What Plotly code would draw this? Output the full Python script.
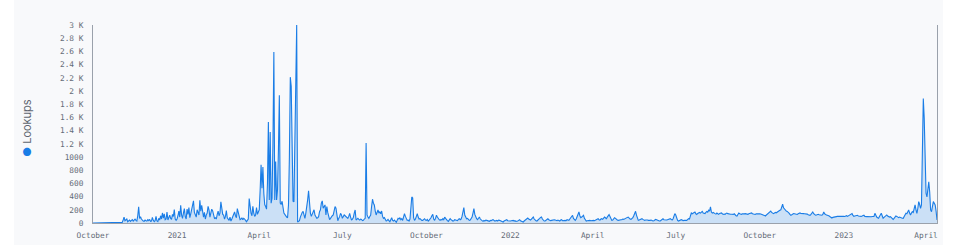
import pandas as pd
import plotly.graph_objects as go

# ---- data: daily lookups ----
start_q4_2020 = "2020-10-01"
lookups_q4_2020 = [
    0, 0, 0, 0, 0, 0, 0, 0, 0, 0, 0, 0, 0, 0, 0, 0, 0, 0, 0, 0,
    0, 0, 0, 0, 0, 0, 0, 0, 0, 0, 0, 0,
    10, 45, 90, 35, 55, 60, 20, 30, 45, 25, 35, 50, 30, 45, 60, 40, 30, 110,
    245, 70, 95, 60, 40, 30, 25, 45, 35, 30, 50, 35, 55, 25, 30, 85, 40, 20, 35, 100,
    30, 20, 70, 45, 110, 60, 152, 75, 140, 50, 60, 165, 45, 90, 120, 70, 55, 130, 100, 203, 60, 40,
]
start_q1_2021 = "2021-01-01"
lookups_q1_2021 = [
    60, 110, 180, 90, 269, 120, 70,
    150, 218, 95, 60, 210, 130, 233,
    80, 140, 200, 233, 335, 160, 110,
    90, 200, 170, 120, 345, 180, 269,
    140, 90, 160, 60, 120, 150, 253,
    200, 90, 160, 210, 182, 110, 70,
    80, 60, 130, 180, 110, 150, 320,
    218, 130, 120, 60, 100, 190, 80,
    60, 40, 90, 30, 60, 100, 120,
    167, 110, 80, 218, 150, 80, 50,
    60, 80, 50, 70, 60, 40, 20,
    40, 60, 370, 200, 150, 110, 253,
    150, 100, 120, 233, 130, 180,
]
start_q2_2021 = "2021-04-01"
lookups_q2_2021 = [
    200, 500, 882, 527, 850, 450, 280, 250, 210, 600,
    1530, 350, 1379, 300, 375, 1200, 2590, 350, 933, 350,
    500, 1100, 1936, 300, 280, 330, 200, 150, 130, 100,
    90, 80, 270, 1000, 2210, 2073, 1100, 330, 320, 1200,
    2100, 3000, 15,
    30, 36, 90, 150, 160, 175, 110, 70, 150, 226,
    350, 487, 226, 150, 100, 130, 170, 200, 120, 96,
    71, 80, 96, 172, 200, 300, 335, 223, 260, 274,
    122, 248, 160, 71, 50, 70, 96, 110, 122, 200,
    248, 223, 150, 35, 70, 96, 147, 122,
]
start_q3_2021 = "2021-07-01"
lookups_q3_2021 = [
    71, 90, 122, 110, 96, 80, 71, 100, 147, 90,
    45, 60, 81, 150, 198, 45, 60, 71, 55, 45,
    60, 55, 35, 40, 60, 71, 1211, 122, 90, 71,
    100, 122, 250, 360, 300, 274, 180, 122, 160, 198,
    150, 172, 140, 182, 100, 71, 81, 60, 30, 40,
    55, 35, 20, 50, 81, 40, 30, 45, 30, 10,
    40, 71, 60, 81, 50, 65, 40, 90, 142, 100,
    60, 40, 45, 30, 60, 250, 395, 380, 80, 40,
    60, 100, 142, 90, 60, 65, 50, 40, 40, 55,
    65, 45,
]
start_q4_2021 = "2021-10-01"
lookups_q4_2021 = [
    40, 55, 30, 45, 60, 80, 110, 132, 60, 40,
    70, 117, 90, 60, 50, 40, 55, 45, 65, 50,
    90, 70, 45, 35, 25, 40, 65, 50, 40, 30,
    35, 50, 45, 40, 35, 55, 65, 50, 60, 100,
    180, 233, 120, 80, 65, 70, 50, 40, 45, 60,
    90, 150, 218, 130, 80, 65, 50, 70, 90, 60,
    40, 35, 25, 40, 30, 45, 40, 35, 30, 25,
    40, 35, 45, 50, 40, 30, 35, 40, 30, 45,
    40, 35, 25, 20, 15, 30, 40, 45, 50, 35,
    30, 25,
]
start_q1_2022 = "2022-01-01"
lookups_q1_2022 = [
    30, 35, 40, 40, 30, 35, 25, 25, 30, 40,
    50, 35, 25, 20, 15, 30, 40, 55, 70, 76,
    60, 50, 45, 60, 80, 90, 60, 40, 35, 30,
    40, 55, 70, 85, 90, 60, 40, 30, 30, 45,
    55, 65, 50, 40, 35, 40, 45, 40, 50, 45,
    40, 35, 45, 40, 30, 45, 50, 35, 40, 45,
    40, 35, 50, 45, 40, 60, 80, 100, 117, 70,
    45, 40, 60, 90, 130, 167, 110, 80, 90, 100,
    117, 70, 40, 30, 35, 40, 45, 40, 35, 40,
]
start_q2_2022 = "2022-04-01"
lookups_q2_2022 = [
    40, 40, 35, 45, 55, 60, 65, 50, 45, 60,
    65, 55, 70, 90, 80, 60, 90, 110, 127, 100,
    60, 40, 45, 60, 80, 70, 50, 45, 40, 45,
    55, 50, 50, 60, 55, 65, 70, 80, 85, 90,
    70, 60, 55, 65, 80, 110, 150, 177, 120, 60,
    40, 45, 55, 60, 65, 55, 45, 40, 45, 50,
    45, 40, 35, 40, 45, 35, 30, 35, 45, 55,
    50, 40, 35, 30, 30, 40, 55, 65, 50, 45,
    40, 45, 50, 55, 60, 65, 55, 45, 60, 100,
    142,
]
start_q3_2022 = "2022-07-01"
lookups_q3_2022 = [
    120, 60, 40, 30, 40, 45, 50, 45, 35, 40,
    45, 40, 40, 50, 65, 60, 100, 152, 140, 150,
    160, 167, 140, 130, 145, 152, 160, 150, 170, 177,
    150, 140, 142, 160, 175, 165, 193, 180, 243, 167,
    150, 160, 145, 142, 135, 150, 140, 132, 145, 155,
    152, 140, 130, 135, 132, 145, 150, 142, 135, 140,
    132, 132, 125, 130, 140, 120, 110, 106, 140, 152,
    140, 132, 132, 140, 145, 138, 142, 135, 130, 132,
    140, 145, 150, 152, 140, 135, 132, 130, 138, 140,
    142, 135,
]
start_q4_2022 = "2022-10-01"
lookups_q4_2022 = [
    140, 135, 132, 125, 120, 115, 106, 120, 135, 152,
    160, 170, 182, 160, 150, 142, 150, 160, 155, 167,
    175, 185, 193, 200, 240, 284, 230, 210, 193, 180,
    175, 167, 150, 130, 117, 125, 135, 142, 140, 135,
    132, 130, 140, 150, 152, 145, 140, 142, 142, 140,
    138, 142, 135, 125, 120, 117, 130, 150, 167, 140,
    125, 117, 120, 128, 132, 125, 120, 117, 117, 130,
    167, 140, 127, 120, 118, 117, 105, 95, 85, 76,
    85, 90, 95, 91, 95, 100, 101, 98, 100, 102,
    101, 95,
]
start_2023 = "2023-01-01"
lookups_2023 = [
    101, 98, 105, 110, 100, 108, 117, 120, 130, 142,
    115, 101, 105, 110, 112, 117, 105, 100, 98, 101,
    105, 110, 117, 100, 95, 96, 98, 95, 100, 96,
    95, 98, 96, 100, 147, 110, 90, 80, 71, 100,
    120, 147, 110, 71, 85, 100, 110, 122, 105, 95,
    90, 96, 80, 65, 55, 70, 90, 106, 100, 85,
    81, 90, 81, 75, 72, 71, 100, 130, 147, 140,
    170, 198, 150, 122, 150, 172, 160, 200, 274, 200,
    147, 220, 325, 280, 223, 274, 900, 1886, 1592, 680,
    450, 395, 578, 624, 470, 198, 172, 250, 325, 300,
    274, 180, 45,
]

tick_dates = ["2020-10-01", "2021-01-01", "2021-04-01", "2021-07-01", "2021-10-01",
              "2022-01-01", "2022-04-01", "2022-07-01", "2022-10-01", "2023-01-01",
              "2023-04-01"]
tick_labels = ["October", "2021", "April", "July", "October", "2022", "April",
               "July", "October", "2023", "April"]
y_tick_values = [0, 200, 400, 600, 800, 1000, 1200, 1400, 1600, 1800, 2000,
                 2200, 2400, 2600, 2800, 3000]
y_tick_labels = ["0", "200", "400", "600", "800", "1000", "1.2 K", "1.4 K", "1.6 K",
                 "1.8 K", "2 K", "2.2 K", "2.4 K", "2.6 K", "2.8 K", "3 K"]
series_name = "Lookups"

segments = [
    (start_q4_2020, lookups_q4_2020), (start_q1_2021, lookups_q1_2021),
    (start_q2_2021, lookups_q2_2021), (start_q3_2021, lookups_q3_2021),
    (start_q4_2021, lookups_q4_2021), (start_q1_2022, lookups_q1_2022),
    (start_q2_2022, lookups_q2_2022), (start_q3_2022, lookups_q3_2022),
    (start_q4_2022, lookups_q4_2022), (start_2023, lookups_2023),
]
dates, values = [], []
for start, vals in segments:
    dates.extend(pd.date_range(start, periods=len(vals), freq="D"))
    values.extend(vals)

LINE = "#1a7de6"
AXIS = "#9aa1ab"
TICK = "#656c78"
PANEL = "#f8f9fb"
MONO = "DejaVu Sans Mono"

fig = go.Figure()
fig.add_trace(go.Scatter(
    x=dates, y=values, mode="lines", name=series_name,
    line=dict(color=LINE, width=1.1),
    fill="tozeroy", fillcolor="rgba(26,125,230,0.2)",
))

L, R, T, B = 93, 18, 25, 29
W, H = 955, 252
pw, ph = W - L - R, H - T - B

fig.update_layout(
    width=W, height=H,
    margin=dict(l=L, r=R, t=T, b=B, pad=0),
    paper_bgcolor="white",
    plot_bgcolor="rgba(0,0,0,0)",
    showlegend=False,
    xaxis=dict(
        type="date", range=["2020-10-01", "2023-04-13"],
        tickvals=tick_dates, ticktext=tick_labels,
        showgrid=False, zeroline=False, showline=True,
        linecolor=AXIS, linewidth=1, ticks="",
        tickfont=dict(family=MONO, size=7.8, color=TICK),
        ticklabelstandoff=5,
    ),
    yaxis=dict(
        range=[0, 3000], tickvals=y_tick_values, ticktext=y_tick_labels,
        showgrid=False, zeroline=False, showline=True, mirror=True,
        linecolor=AXIS, linewidth=1, ticks="",
        tickfont=dict(family=MONO, size=7.8, color=TICK),
        ticklabelstandoff=7,
    ),
    shapes=[dict(
        type="rect", xref="paper", yref="paper", layer="below",
        x0=(14 - L) / pw, x1=(943 - L) / pw,
        y0=(H - B - 245) / ph, y1=(H - B - 0) / ph,
        fillcolor=PANEL, line=dict(width=0),
    )],
    annotations=[dict(
        xref="paper", yref="paper",
        x=(27 - L) / pw, y=(H - B - 128) / ph,
        text=f"<span style='color:{LINE}'>●</span> {series_name}",
        textangle=-90, showarrow=False, xanchor="center", yanchor="middle",
        font=dict(family="Inter", size=11, color="#5f6670"),
    )],
)

fig.write_html("out.html")
